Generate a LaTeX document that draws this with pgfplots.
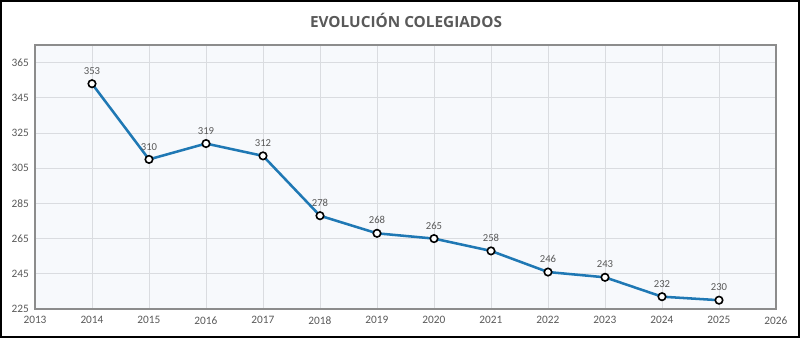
\documentclass[border=0pt]{standalone}
\usepackage{pgfplots}
\pgfplotsset{compat=1.18}
\usepackage{fontspec}
\setmainfont{Carlito}
\newfontfamily\titlefont{Open Sans}
\definecolor{linec}{HTML}{1F78B4}
\definecolor{gridc}{HTML}{DADCE0}
\definecolor{bgc}{HTML}{F7F9FC}
\definecolor{tickc}{HTML}{595959}
\definecolor{axc}{HTML}{8C8C8C}
\begin{document}
\begin{tikzpicture}
\begin{axis}[
  at={(0,0)}, anchor=south west,
  scale only axis,
  width=555.75pt, height=198pt,
  xmin=2013, xmax=2026,
  ymin=225, ymax=375,
  xtick={2013,2014,...,2026},
  ytick={225,245,...,365},
  xticklabel style={/pgf/number format/1000 sep={}},
  /pgf/number format/assume math mode=true,
  tick label style={font=\fontsize{8.5}{10}\selectfont, text=tickc},
  xticklabel style={yshift=-2pt},
  yticklabel style={xshift=-1pt},
  grid=major,
  major grid style={gridc, line width=0.6pt},
  major tick length=0pt,
  axis background/.style={fill=bgc},
  axis line style={axc, line width=1.1pt},
  clip=false,
  nodes near coords,
  every node near coord/.append style={font=\fontsize{8}{9}\selectfont, text=tickc, yshift=3pt},
]
\addplot[linec, line width=1.9pt, mark=*, mark options={fill=white, draw=black, line width=1.2pt}, mark size=2.8pt]
coordinates {
(2014,353) (2015,310) (2016,319) (2017,312) (2018,278) (2019,268)
(2020,265) (2021,258) (2022,246) (2023,243) (2024,232) (2025,230)
};
\end{axis}
\node[font=\titlefont\bfseries\fontsize{11.5}{13}\selectfont, text=tickc] at (278.25pt,216.75pt) {EVOLUCIÓN COLEGIADOS};
\draw[black, line width=1.5pt] (-25.5pt,-21pt) rectangle (573pt,231pt);
\useasboundingbox (-26.25pt,-21.75pt) rectangle (573.75pt,231.75pt);
\end{tikzpicture}
\end{document}
